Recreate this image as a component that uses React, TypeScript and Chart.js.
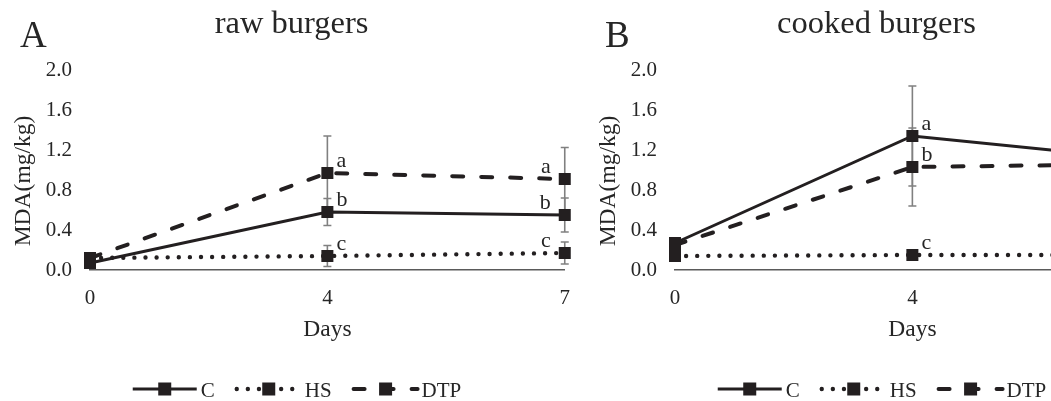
import React, { useEffect, useRef } from "react";
import { Chart, registerables } from "chart.js";

Chart.register(...registerables);

// ---------- data ----------
const days = ["0", "4", "7"];
const yTicks = [0, 0.4, 0.8, 1.2, 1.6, 2.0];
const seriesNames = ["C", "HS", "DTP"];

const rawC = [0.07, 0.58, 0.55];
const rawHS = [0.12, 0.14, 0.17];
const rawDTP = [0.12, 0.97, 0.91];
const rawErrC = [0, 0.135, 0.17];
const rawErrHS = [0, 0.105, 0.11];
const rawErrDTP = [0, 0.37, 0.315];
const rawLetC = ["", "b", "b"];
const rawLetHS = ["", "c", "c"];
const rawLetDTP = ["", "a", "a"];

const cookedC = [0.27, 1.34, 1.1];
const cookedHS = [0.14, 0.15, 0.15];
const cookedDTP = [0.25, 1.03, 1.06];
const cookedErrC = [0, 0.5, 0.3];
const cookedErrHS = [0, 0.02, 0.03];
const cookedErrDTP = [0, 0.39, 0.3];
const cookedLetC = ["", "a", "a"];
const cookedLetHS = ["", "c", "c"];
const cookedLetDTP = ["", "b", "b"];

// ---------- styles ----------
const INK = "#231f20";
const TEXT = "#262626";
const ERR = "#808080";
const AXIS = "#5a5a5a";
const SERIF = "'Liberation Serif', 'Times New Roman', serif";
const W = 586;
const H = 401;
const PANEL_OFFSET = 585;

type LineStyle = { dash: number[]; cap: CanvasLineCap; width: number };
const lineStyles: LineStyle[] = [
  { dash: [], cap: "butt", width: 3 },
  { dash: [0, 11.1], cap: "round", width: 4.4 },
  { dash: [11, 18], cap: "round", width: 4 },
];

type PanelDef = {
  letter: string;
  title: string;
  values: number[][];
  errors: number[][];
  letters: string[][];
};

const panels: PanelDef[] = [
  {
    letter: "A",
    title: "raw burgers",
    values: [rawC, rawHS, rawDTP],
    errors: [rawErrC, rawErrHS, rawErrDTP],
    letters: [rawLetC, rawLetHS, rawLetDTP],
  },
  {
    letter: "B",
    title: "cooked burgers",
    values: [cookedC, cookedHS, cookedDTP],
    errors: [cookedErrC, cookedErrHS, cookedErrDTP],
    letters: [cookedLetC, cookedLetHS, cookedLetDTP],
  },
];

function makePlugin(panel: PanelDef) {
  return {
    id: "panelDecor",
    beforeDatasetsDraw(chart: any) {
      const ctx = chart.ctx as CanvasRenderingContext2D;
      const xs = chart.scales.x;
      const ys = chart.scales.y;
      ctx.save();
      ctx.strokeStyle = ERR;
      ctx.lineWidth = 1.6;
      ctx.setLineDash([]);
      panel.values.forEach((vals, i) => {
        vals.forEach((v, j) => {
          const e = panel.errors[i][j];
          if (!e) return;
          const x = xs.getPixelForValue(j);
          const yt = ys.getPixelForValue(v + e);
          const yb = ys.getPixelForValue(v - e);
          ctx.beginPath();
          ctx.moveTo(x, yt);
          ctx.lineTo(x, yb);
          ctx.moveTo(x - 4, yt);
          ctx.lineTo(x + 4, yt);
          ctx.moveTo(x - 4, yb);
          ctx.lineTo(x + 4, yb);
          ctx.stroke();
        });
      });
      ctx.restore();
    },
    afterDatasetsDraw(chart: any) {
      const ctx = chart.ctx as CanvasRenderingContext2D;
      const xs = chart.scales.x;
      const ys = chart.scales.y;
      ctx.save();
      ctx.font = `22px ${SERIF}`;
      ctx.fillStyle = TEXT;
      ctx.textBaseline = "alphabetic";
      panel.values.forEach((vals, i) => {
        vals.forEach((v, j) => {
          const t = panel.letters[i][j];
          if (!t) return;
          const x = xs.getPixelForValue(j);
          const y = ys.getPixelForValue(v);
          if (j === vals.length - 1) {
            ctx.textAlign = "right";
            ctx.fillText(t, x - 14, y - 6);
          } else {
            ctx.textAlign = "left";
            ctx.fillText(t, x + 9, y - 6);
          }
        });
      });
      ctx.restore();
    },
    afterDraw(chart: any) {
      const ctx = chart.ctx as CanvasRenderingContext2D;
      ctx.save();
      ctx.fillStyle = TEXT;
      // panel letter
      ctx.font = `37px ${SERIF}`;
      ctx.textAlign = "left";
      ctx.textBaseline = "alphabetic";
      ctx.fillText(panel.letter, 20, 47);
      // title
      ctx.font = `32.5px ${SERIF}`;
      ctx.textAlign = "center";
      ctx.fillText(panel.title, 291.5, 33);
      // y title
      ctx.save();
      ctx.translate(23.5, 181);
      ctx.rotate(-Math.PI / 2);
      ctx.font = `23.5px ${SERIF}`;
      ctx.textAlign = "center";
      ctx.textBaseline = "middle";
      ctx.fillText("MDA(mg/kg)", 0, 0);
      ctx.restore();
      // legend
      ctx.font = `21px ${SERIF}`;
      const sw = 64;
      const gapT = 4;
      const gapI = 22;
      const widths = seriesNames.map((n) => ctx.measureText(n).width);
      const total =
        widths.reduce((a, b) => a + b, 0) +
        seriesNames.length * (sw + gapT) +
        gapI * (seriesNames.length - 1);
      let x = 297 - total / 2;
      const y = 389;
      seriesNames.forEach((n, i) => {
        const st = lineStyles[i];
        ctx.strokeStyle = INK;
        ctx.lineWidth = st.width;
        ctx.lineCap = st.cap;
        ctx.setLineDash(st.dash);
        ctx.beginPath();
        ctx.moveTo(x, y);
        ctx.lineTo(x + sw, y);
        ctx.stroke();
        ctx.setLineDash([]);
        ctx.fillStyle = INK;
        ctx.fillRect(x + sw / 2 - 6.5, y - 6.5, 13, 13);
        ctx.fillStyle = TEXT;
        ctx.textAlign = "left";
        ctx.textBaseline = "alphabetic";
        ctx.fillText(n, x + sw + gapT, 397);
        x += sw + gapT + widths[i] + gapI;
      });
      ctx.restore();
    },
  };
}

function Panel({ panel, left }: { panel: PanelDef; left: number }) {
  const ref = useRef<HTMLCanvasElement>(null);
  useEffect(() => {
    if (!ref.current) return;
    Chart.defaults.font.family = SERIF;
    const chart = new Chart(ref.current, {
      type: "line",
      data: {
        labels: days,
        datasets: panel.values.map((vals, i) => ({
          label: seriesNames[i],
          data: vals,
          borderColor: INK,
          backgroundColor: INK,
          borderWidth: lineStyles[i].width,
          borderDash: lineStyles[i].dash,
          borderCapStyle: lineStyles[i].cap,
          pointStyle: "rect",
          pointRadius: 8.5,
          pointBackgroundColor: INK,
          pointBorderColor: INK,
          pointBorderWidth: 0,
          fill: false,
          tension: 0,
          clip: false,
        })) as any,
      },
      options: {
        responsive: false,
        animation: false,
        devicePixelRatio: 1,
        layout: { padding: { top: 70, right: 20, left: 0, bottom: 0 } },
        plugins: {
          legend: { display: false },
          title: { display: false },
          tooltip: { enabled: false },
        },
        scales: {
          x: {
            type: "category",
            offset: false,
            grid: { display: false, drawTicks: false },
            border: { display: true, color: AXIS, width: 1.5 },
            ticks: {
              color: TEXT,
              font: { family: SERIF, size: 21 },
              padding: 16,
              maxRotation: 0,
            },
            title: {
              display: true,
              text: "Days",
              color: TEXT,
              font: { family: SERIF, size: 23.5 },
              padding: { top: 0, bottom: 57.4 },
            },
            afterFit: (s: any) => {
              s.height = 131;
            },
          },
          y: {
            min: 0,
            max: 2,
            grid: { display: false, drawTicks: false },
            border: { display: false },
            ticks: {
              color: TEXT,
              font: { family: SERIF, size: 21 },
              padding: 18,
              callback: (v: any) => Number(v).toFixed(1),
            },
            afterBuildTicks: (s: any) => {
              s.ticks = yTicks.map((v) => ({ value: v }));
            },
            afterFit: (s: any) => {
              s.width = 90;
            },
          },
        },
      } as any,
      plugins: [makePlugin(panel)],
    });
    return () => chart.destroy();
  }, [panel]);
  return (
    <canvas
      ref={ref}
      width={W}
      height={H}
      style={{ position: "absolute", left, top: 0, width: W, height: H }}
    />
  );
}

export default function App() {
  return (
    <div
      style={{
        position: "fixed",
        left: 0,
        top: 0,
        width: 1051,
        height: 401,
        overflow: "hidden",
        background: "#fff",
      }}
    >
      <Panel panel={panels[0]} left={0} />
      <Panel panel={panels[1]} left={PANEL_OFFSET} />
    </div>
  );
}
